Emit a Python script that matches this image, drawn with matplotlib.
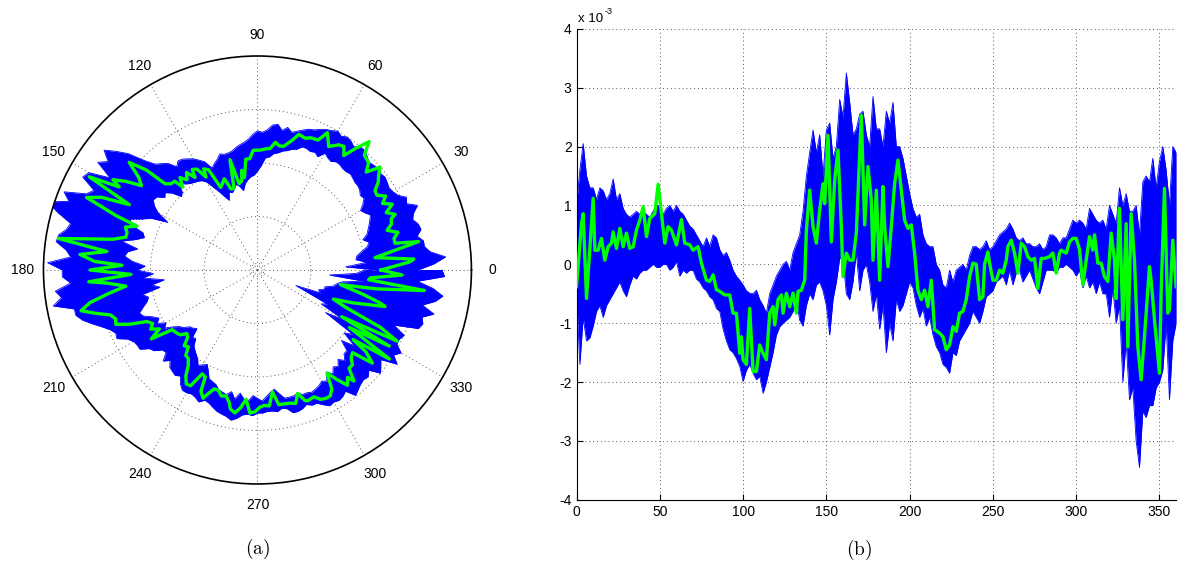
import numpy as np
import matplotlib.pyplot as plt

plt.rcParams['font.family'] = ['Liberation Sans', 'DejaVu Sans']
plt.rcParams['mathtext.fontset'] = 'cm'
plt.rcParams['axes.unicode_minus'] = False

# envelope of the blue realisations (units of 1e-3), every 2 degrees
angle_env = list(range(0, 361, 2))
blue_hi = [1.0, 1.6, 2.05, 1.5, 1.3, 1.3, 1.1, 1.3, 1.25, 1.1,
           1.2, 1.45, 1.1, 1.2, 0.95, 0.85, 0.8, 0.85, 0.9, 0.85,
           0.9, 0.85, 0.8, 0.9, 1.0, 1.0, 0.85, 0.95, 1.0, 0.9,
           1.0, 0.9, 0.85, 0.75, 0.65, 0.6, 0.5, 0.4, 0.3, 0.45,
           0.3, 0.5, 0.45, 0.25, 0.15, 0.2, 0.07, -0.1, -0.2, -0.27,
           -0.35, -0.45, -0.49, -0.5, -0.44, -0.6, -0.7, -0.83, -0.5, -0.35,
           -0.2, -0.1, 0.0, 0.05, -0.1, 0.2, 0.35, 0.5, 0.9, 1.5,
           1.9, 2.28, 1.9, 2.2, 1.5, 2.28, 2.4, 1.8, 2.0, 2.8,
           2.5, 3.25, 2.75, 2.2, 2.3, 2.55, 2.6, 2.2, 2.0, 2.85,
           2.3, 2.3, 2.0, 2.6, 2.4, 2.75, 2.0, 2.0, 1.8, 1.5,
           1.2, 0.95, 0.8, 0.85, 0.5, 0.35, 0.3, 0.3, 0.0, -0.1,
           -0.35, -0.4, -0.1, -0.3, -0.1, -0.05, 0.0, -0.1, 0.15, 0.3,
           0.3, 0.25, 0.3, 0.4, 0.25, 0.3, 0.4, 0.5, 0.55, 0.6,
           0.7, 0.6, 0.45, 0.4, 0.45, 0.35, 0.35, 0.3, 0.3, 0.35,
           0.25, 0.3, 0.5, 0.5, 0.45, 0.35, 0.45, 0.45, 0.6, 0.75,
           0.7, 0.75, 0.7, 0.6, 0.95, 0.85, 0.75, 0.7, 0.75, 0.6,
           1.0, 0.85, 0.7, 1.3, 1.0, 1.2, 0.9, 0.9, 1.0, 0.5,
           1.4, 1.5, 1.4, 1.8, 1.3, 1.75, 2.0, 1.6, 1.0, 2.0,
           1.9]
blue_lo = [-0.5, -1.7, -0.9, -1.3, -1.25, -1.05, -0.8, -0.7, -0.9, -0.7,
           -0.6, -0.5, -0.4, -0.3, -0.45, -0.55, -0.35, -0.2, -0.25, -0.15,
           -0.1, -0.1, -0.05, 0.0, -0.05, -0.05, 0.0, 0.0, -0.1, -0.05,
           0.05, -0.2, -0.1, -0.15, -0.1, -0.1, -0.25, -0.3, -0.4, -0.45,
           -0.55, -0.6, -0.75, -0.8, -1.1, -1.3, -1.45, -1.5, -1.6, -1.73,
           -1.99, -1.8, -1.7, -1.85, -1.96, -1.9, -2.19, -2.0, -1.75, -1.5,
           -1.2, -1.06, -1.0, -0.95, -0.9, -0.8, -0.6, -0.95, -1.05, -0.7,
           -0.5, -0.6, -0.35, -0.3, -0.45, -0.7, -1.2, -0.6, -0.3, 0.1,
           0.1, -0.5, -0.6, -0.3, 0.2, -0.45, -0.1, 0.0, -0.3, -0.8,
           -0.5, -1.1, -0.7, -1.5, -1.0, -1.3, -0.6, -0.8, -0.7, -0.5,
           -0.3, -0.4, -0.7, -0.9, -0.75, -1.05, -0.9, -1.2, -1.4, -1.5,
           -1.7, -1.75, -1.85, -1.5, -1.55, -1.3, -1.2, -1.1, -1.0, -0.8,
           -0.9, -1.0, -0.8, -0.55, -0.5, -0.45, -0.3, -0.25, -0.2, -0.35,
           -0.1, -0.35, -0.15, -0.1, -0.3, -0.2, -0.1, -0.25, -0.4, -0.5,
           -0.3, -0.1, -0.1, -0.1, -0.15, -0.05, -0.05, 0.0, -0.05, -0.1,
           -0.2, -0.1, -0.4, -0.2, -0.4, -0.3, -0.5, -0.3, -0.5, -0.5,
           -0.9, -0.4, -1.0, -0.7, -2.0, -1.3, -2.3, -2.1, -3.0, -3.45,
           -2.5, -2.6, -2.4, -2.4, -2.1, -2.0, -1.8, -1.0, -2.3, -1.3,
           -1.0]

# green (mean) curve
angle_green = [0, 3, 4, 6, 10, 11, 13, 15, 17, 19, 21, 22, 24, 26, 28, 30, 32, 34, 36, 38,
               40, 42, 44, 47, 49, 51, 53, 55, 57, 60, 63, 65, 68, 70, 73, 75, 78, 80, 82, 84,
               86, 89, 92, 94, 96, 98, 99, 100, 102, 104, 106, 108, 110, 112, 114, 116, 118, 119, 121, 123,
               124, 126, 128, 130, 132, 133, 135, 137, 138, 140, 142, 144, 146, 148, 149, 151, 153, 155, 157, 159,
               160, 162, 164, 166, 168, 171, 173, 175, 177, 178, 180, 182, 184, 185, 187, 189, 191, 193, 195, 197,
               199, 201, 203, 205, 207, 209, 211, 213, 215, 218, 220, 222, 224, 226, 228, 230, 232, 234, 236, 238,
               240, 242, 244, 245, 247, 248, 250, 252, 254, 256, 258, 259, 261, 263, 265, 267, 269, 271, 273, 275,
               277, 279, 281, 284, 286, 288, 290, 291, 294, 296, 298, 300, 302, 304, 306, 308, 310, 311, 313, 315,
               317, 319, 321, 323, 324, 326, 328, 330, 331, 333, 335, 337, 339, 341, 344, 345, 347, 350, 351, 353,
               355, 356, 358, 360]
green = [-0.38, 0.69, 0.86, -0.58, 1.12, 0.24, 0.24, 0.44, 0.07, 0.30, 0.36, 0.55, 0.27, 0.61, 0.30, 0.53, 0.27, 0.30, 0.58, 0.75,
         0.98, 0.47, 0.78, 0.86, 1.36, 0.86, 0.36, 0.64, 0.58, 0.33, 0.76, 0.36, 0.33, 0.24, 0.30, 0.02, -0.27, -0.29, -0.18, -0.43,
         -0.46, -0.52, -0.52, -0.83, -0.83, -1.51, -1.23, -1.62, -1.70, -0.75, -1.82, -1.82, -1.37, -1.51, -1.62, -0.83, -0.72, -1.03, -0.60, -0.52,
         -0.83, -0.49, -0.72, -0.49, -0.83, -0.46, -0.44, -0.27, 0.58, 1.26, 0.64, 0.36, 0.92, 1.37, 1.03, 2.19, 0.38, 1.43, 1.94, 0.64,
         -0.21, 0.19, 0.07, 0.07, 0.53, 2.53, 0.67, 1.66, 1.09, 0.07, 1.26, -0.27, 1.32, 0.64, -0.04, 0.64, 1.37, 1.77, 1.26, 0.75,
         0.61, 0.67, 0.19, -0.44, -0.60, -0.44, -0.72, -0.27, -1.11, -1.17, -1.23, -1.45, -1.37, -1.06, -1.14, -0.83, -0.80, -0.60, -0.21, 0.02,
         0.00, -0.60, -0.55, 0.00, 0.21, 0.02, -0.27, -0.27, -0.10, -0.15, 0.07, 0.30, 0.41, 0.19, -0.15, 0.36, 0.30, 0.13, 0.07, 0.10,
         -0.41, 0.10, 0.10, 0.13, 0.19, -0.15, 0.19, 0.24, 0.19, 0.38, 0.44, 0.44, 0.25, -0.35, 0.07, 0.47, 0.24, 0.50, 0.02, 0.02,
         -0.21, -0.29, 0.53, 0.07, -0.58, 0.95, -0.94, 0.69, -1.40, 0.86, 0.07, -1.40, -1.96, -1.23, -0.04, -0.27, -0.94, -1.85, -0.49, 1.29,
         -0.83, -0.77, 0.41, -0.38]

polar_offset = 5   # radius in the polar plot = value + 5 (x 1e-3)
polar_rmax = 8

BLUE = '#0000ff'
GREEN = '#00ff00'
GRID = dict(color='0.35', linestyle=(0, (1, 3)), linewidth=0.7)

fig = plt.figure(figsize=(11.78, 5.65), dpi=100)

# (a) polar plot
axp = fig.add_axes([0.0369, 0.1434, 0.3633, 0.7575], projection='polar')
th_env = np.deg2rad(angle_env)
r_hi = np.array(blue_hi) + polar_offset
r_lo = np.array(blue_lo) + polar_offset
axp.fill_between(th_env, r_lo, r_hi, color=BLUE, lw=0, zorder=2)
axp.plot(th_env, r_hi, color=BLUE, lw=0.6, zorder=2)
axp.plot(th_env, r_lo, color=BLUE, lw=0.6, zorder=2)
axp.plot(np.deg2rad(angle_green), np.array(green) + polar_offset, color=GREEN, lw=2.4, zorder=3)
axp.set_ylim(0, polar_rmax)
axp.grid(False)
axp.set_xticks([])
axp.set_yticks([])
circ = np.linspace(0, 2 * np.pi, 400)
for r in [0.25, 2, 4, 6]:
    axp.plot(circ, np.full_like(circ, r), zorder=1, **GRID)
for a in range(0, 360, 30):
    t = np.deg2rad(a)
    axp.plot([t, t], [0, polar_rmax], zorder=1, **GRID)
    axp.text(t, polar_rmax * 1.1, str(a), ha='center', va='center', fontsize=10)
axp.spines['polar'].set_linewidth(1.2)

# (b) cartesian plot
ax = fig.add_axes([0.4894, 0.1154, 0.509, 0.8336])
ax.fill_between(angle_env, blue_lo, blue_hi, color=BLUE, lw=0, zorder=2)
ax.plot(angle_env, blue_hi, color=BLUE, lw=0.6, zorder=2)
ax.plot(angle_env, blue_lo, color=BLUE, lw=0.6, zorder=2)
ax.plot(angle_green, green, color=GREEN, lw=2.4, zorder=3)
ax.set_xlim(0, 360)
ax.set_ylim(-4, 4)
ax.set_xticks(range(0, 351, 50))
ax.set_yticks(range(-4, 5))
ax.grid(True, **GRID)
ax.set_axisbelow(True)
for s in ['top', 'right']:
    ax.spines[s].set_visible(False)
ax.tick_params(direction='in', length=4, labelsize=10)
ax.annotate('x 10', xy=(0, 1), xycoords='axes fraction', xytext=(1, 5),
            textcoords='offset points', fontsize=9.5)
ax.annotate('-3', xy=(0, 1), xycoords='axes fraction', xytext=(20.5, 11),
            textcoords='offset points', fontsize=6.5)

fig.text(257.5 / 1178, 1 - 549 / 565, r'$(\mathrm{a})$', fontsize=14, ha='center', va='center')
fig.text(859 / 1178, 1 - 550 / 565, r'$(\mathrm{b})$', fontsize=14, ha='center', va='center')

fig.savefig('out.png', dpi=100)
